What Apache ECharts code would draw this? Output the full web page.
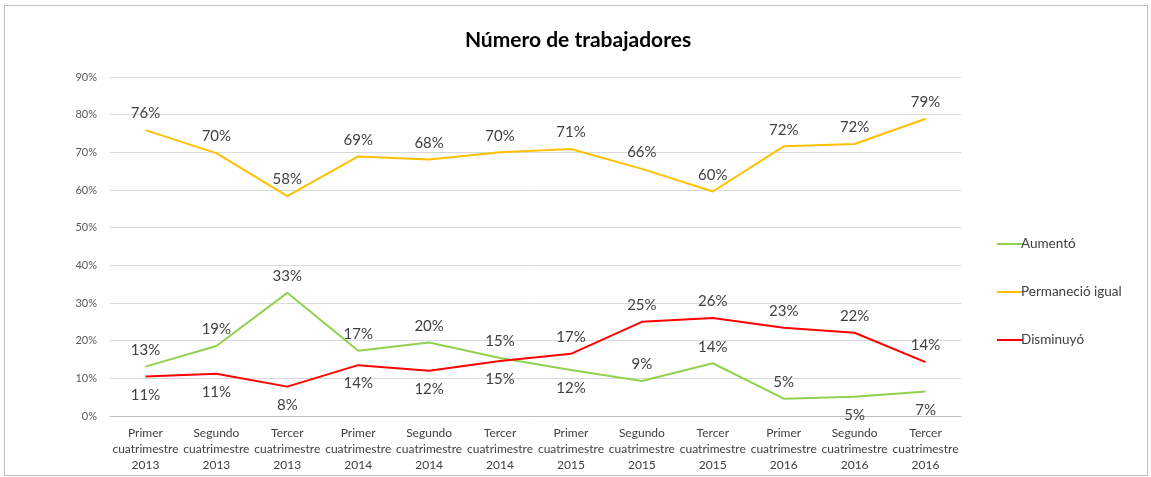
<!DOCTYPE html>
<html><head><meta charset="utf-8">
<script src="https://cdn.jsdelivr.net/npm/echarts@6/dist/echarts.min.js"></script>
<style>
html,body{margin:0;padding:0;background:#fff;}
#frame{position:absolute;left:4px;top:5px;width:1142px;height:469px;border:1px solid #bfbfbf;}
#c{position:absolute;left:0;top:0;width:1151px;height:477px;}
</style></head>
<body><div id="frame"></div><div id="c"></div>
<script>
const categories = [
  "Primer\ncuatrimestre\n2013","Segundo\ncuatrimestre\n2013","Tercer\ncuatrimestre\n2013",
  "Primer\ncuatrimestre\n2014","Segundo\ncuatrimestre\n2014","Tercer\ncuatrimestre\n2014",
  "Primer\ncuatrimestre\n2015","Segundo\ncuatrimestre\n2015","Tercer\ncuatrimestre\n2015",
  "Primer\ncuatrimestre\n2016","Segundo\ncuatrimestre\n2016","Tercer\ncuatrimestre\n2016"
];
const aumento = [13.1, 18.6, 32.7, 17.3, 19.5, 15.4, 12.2, 9.3, 14.0, 4.6, 5.1, 6.5];
const permanecio = [75.9, 69.8, 58.4, 68.9, 68.1, 70.0, 70.9, 65.6, 59.6, 71.6, 72.2, 78.9];
const disminuyo = [10.5, 11.2, 7.8, 13.5, 12.0, 14.6, 16.5, 25.0, 26.0, 23.4, 22.1, 14.3];
const yTicks = [0, 10, 20, 30, 40, 50, 60, 70, 80, 90];

const posAumento = ['top','top','top','top','top','top','bottom','top','top','top','bottom','bottom'];
const posPermanecio = ['top','top','top','top','top','top','top','top','top','top','top','top'];
const posDisminuyo = ['bottom','bottom','bottom','bottom','bottom','bottom','top','top','top','top','top','top'];

const FONT = 'Lato, "Open Sans", sans-serif';
function mk(vals, pos) {
  return vals.map((v, i) => ({ value: v, label: { position: pos[i], distance: pos[i] === 'top' ? 9 : 11 } }));
}
const labelBase = {
  show: true, fontSize: 15, color: '#404040', fontFamily: FONT,
  formatter: p => Math.round(p.value) + '%'
};
function series(name, vals, pos, color) {
  return { name: name, type: 'line', data: mk(vals, pos), symbol: 'circle', symbolSize: 0.01, showSymbol: true,
    lineStyle: { color: color, width: 2 }, itemStyle: { color: color },
    label: labelBase };
}
const chart = echarts.init(document.getElementById('c'));
chart.setOption({
  animation: false,
  title: {
    text: 'Número de trabajadores', left: 573, top: 25, textAlign: 'center',
    textStyle: { fontSize: 21, fontWeight: 'bold', color: '#000', fontFamily: FONT }
  },
  legend: {
    orient: 'vertical', left: 992, top: 232, itemGap: 34, itemWidth: 26, itemHeight: 14,
    icon: 'path://M0,6 L26,6 L26,8 L0,8 Z',
    textStyle: { fontSize: 13.5, color: '#404040', fontFamily: FONT, padding: [0,0,0,-7] },
    data: ['Aumentó', 'Permaneció igual', 'Disminuyó']
  },
  grid: { left: 110, right: 190, top: 77, bottom: 61 },
  xAxis: {
    type: 'category', data: categories, boundaryGap: true,
    axisLine: { lineStyle: { color: '#bfbfbf', width: 1 } },
    axisTick: { show: false },
    axisLabel: { interval: 0, fontSize: 12, color: '#404040', fontFamily: FONT, lineHeight: 16, margin: 9 }
  },
  yAxis: {
    type: 'value', min: yTicks[0], max: yTicks[yTicks.length - 1], interval: 10,
    axisLine: { show: false }, axisTick: { show: false },
    splitLine: { lineStyle: { color: '#d9d9d9', width: 1 } },
    axisLabel: { formatter: '{value}%', fontSize: 11, color: '#595959', fontFamily: FONT, margin: 13 }
  },
  series: [
    series('Aumentó', aumento, posAumento, '#92d050'),
    series('Permaneció igual', permanecio, posPermanecio, '#ffc000'),
    series('Disminuyó', disminuyo, posDisminuyo, '#ff0000')
  ]
});
</script></body></html>
